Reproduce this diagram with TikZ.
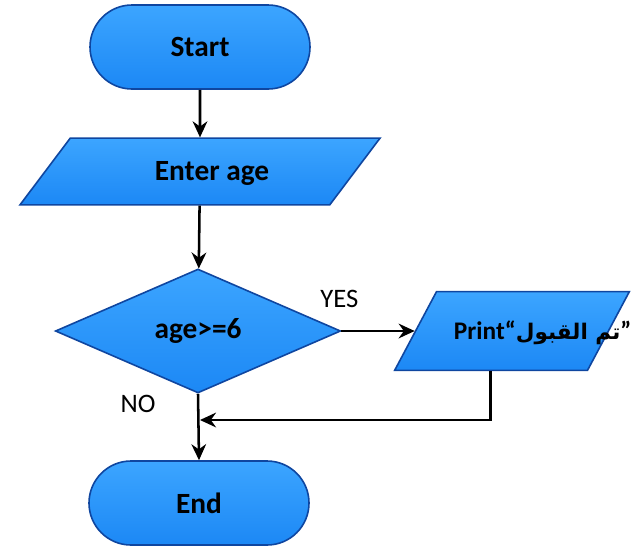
\documentclass[tikz,border=0pt]{standalone}
\usepackage{fontspec}
\setmainfont{Carlito}
\newfontfamily\arabicfont[Script=Arabic,Scale=0.85]{DejaVu Sans}
\TeXXeTstate=1
\usepackage{tikz}
\usetikzlibrary{calc,shapes.misc,shapes.geometric,arrows.meta}

\definecolor{boxfill}{RGB}{28,136,245}
\definecolor{boxtop}{RGB}{60,165,255}
\definecolor{boxline}{RGB}{15,70,160}

\tikzset{
  block/.style={draw=boxline, line width=1.2pt, top color=boxtop, bottom color=boxfill,
    font=\fontsize{22}{26}\selectfont\bfseries, inner sep=0pt},
  terminal/.style={block, rounded rectangle, minimum width=165pt, minimum height=63pt},
  inout/.style={block, trapezium, trapezium stretches body},
  decision/.style={block, diamond, minimum width=214pt, minimum height=93pt},
  flow/.style={line width=1.9pt, -{Stealth[length=12pt,width=11pt]}},
  tag/.style={font=\fontsize{20}{24}\selectfont}
}

\begin{document}
\begin{tikzpicture}[x=0.75pt,y=-0.75pt]
  \useasboundingbox (0,0) rectangle (632,551);

  \node[terminal] (start) at (200,47) {Start};
  \node[inout, trapezium left angle=53, trapezium right angle=127,
        minimum width=270pt] (input) at (200,171.5)
        {\rule[-18pt]{0pt}{50pt}\makebox[0pt]{\hspace*{18pt}Enter age}};
  \node[decision] (check) at (198,331) {age>=6};
  \node[inout, trapezium left angle=62, trapezium right angle=118,
        minimum width=176pt, font=\fontsize{19}{22}\selectfont\bfseries] (output) at (512,331)
        {\rule[-23.5pt]{0pt}{59pt}\makebox[0pt]{\hspace*{46pt}Print“{\arabicfont\bfseries\beginR تم القبول\endR}”}};
  \node[terminal] (stop) at (199,503) {End};

  \draw[flow] (start) -- (input);
  \draw[flow] (input) -- (check);
  \draw[flow] (check.east) -- (output.left side);
  \draw[flow] (check.south) -- (stop.north);
  \node[tag] (yes) at ($(check.east)+(-2,-32)$) {YES};
  \node[tag] (no) at ($(check.south)+(-60,10)$) {NO};

  \coordinate (merge) at (200,420);
  \draw[flow] ($(output.bottom left corner)!0.5!(output.bottom right corner)$) |- (merge);
\end{tikzpicture}
\end{document}
